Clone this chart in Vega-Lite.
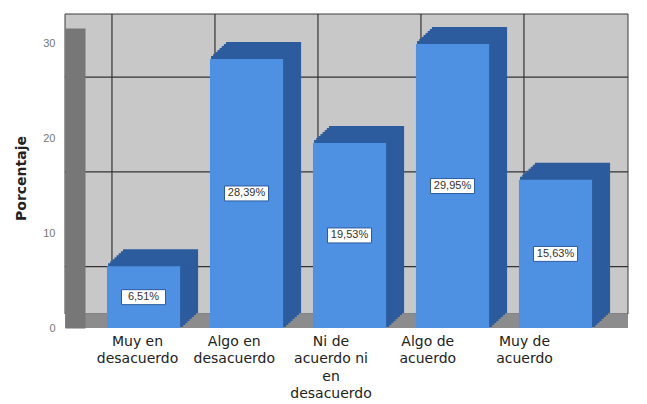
{
  "$schema": "https://vega.github.io/schema/vega-lite/v6.json",
  "width": 543,
  "height": 300,
  "autosize": {"type": "none"},
  "padding": {"left": 65, "top": 28, "right": 39, "bottom": 76},
  "background": "white",
  "config": {
    "view": {"stroke": null},
    "axis": {"grid": false},
    "locale": {
      "number": {"decimal": ",", "thousands": ".", "grouping": [3], "currency": ["", "%"]}
    }
  },
  "data": {
    "values": [
      {"Respuesta": "Muy en desacuerdo", "Porcentaje": 6.51},
      {"Respuesta": "Algo en desacuerdo", "Porcentaje": 28.39},
      {"Respuesta": "Ni de acuerdo ni en desacuerdo", "Porcentaje": 19.53},
      {"Respuesta": "Algo de acuerdo", "Porcentaje": 29.95},
      {"Respuesta": "Muy de acuerdo", "Porcentaje": 15.63}
    ]
  },
  "layer": [
    {
      "data": {"values": [{}]},
      "mark": {"type": "rect", "fill": "#c8c8c8", "stroke": "#3a3a3a", "strokeWidth": 1, "xOffset": 20, "x2Offset": 20, "yOffset": -14, "y2Offset": -14},
      "encoding": {
        "y": {"datum": 0, "type": "quantitative"},
        "y2": {"datum": 31.65}
      }
    },
    {
      "data": {"values": [{}]},
      "mark": {"type": "rule", "color": "#333333", "strokeWidth": 1.2, "xOffset": 20, "yOffset": -14},
      "encoding": {"y": {"datum": 5, "type": "quantitative"}}
    },
    {
      "data": {"values": [{}]},
      "mark": {"type": "rule", "color": "#333333", "strokeWidth": 1.2, "xOffset": 20, "yOffset": -14},
      "encoding": {"y": {"datum": 15, "type": "quantitative"}}
    },
    {
      "data": {"values": [{}]},
      "mark": {"type": "rule", "color": "#333333", "strokeWidth": 1.2, "xOffset": 20, "yOffset": -14},
      "encoding": {"y": {"datum": 25, "type": "quantitative"}}
    },
    {
      "mark": {"type": "rule", "color": "#333333", "strokeWidth": 1.2, "xOffset": 5, "yOffset": -14},
      "encoding": {
        "x": {"field": "Respuesta", "type": "nominal", "sort": null, "bandPosition": 0}
      }
    },
    {
      "data": {"values": [{}]},
      "mark": {"type": "rect", "fill": "#8c8c8c", "xOffset": 20},
      "encoding": {
        "y": {"datum": 0, "type": "quantitative"},
        "y2": {"datum": 1.5}
      }
    },
    {
      "encoding": {
        "x": {"field": "Respuesta", "type": "nominal", "sort": null},
        "y": {"field": "Porcentaje", "type": "quantitative"}
      },
      "layer": [
        {"mark": {"type": "bar", "fill": "#2c5c9e", "stroke": "#2c5c9e", "strokeWidth": 2, "xOffset": 17, "yOffset": -16}},
        {"mark": {"type": "bar", "fill": "#2c5c9e", "stroke": "#2c5c9e", "strokeWidth": 2, "xOffset": 14.9, "yOffset": -14}},
        {"mark": {"type": "bar", "fill": "#2c5c9e", "stroke": "#2c5c9e", "strokeWidth": 2, "xOffset": 12.75, "yOffset": -12}},
        {"mark": {"type": "bar", "fill": "#2c5c9e", "stroke": "#2c5c9e", "strokeWidth": 2, "xOffset": 10.6, "yOffset": -10}},
        {"mark": {"type": "bar", "fill": "#2c5c9e", "stroke": "#2c5c9e", "strokeWidth": 2, "xOffset": 8.5, "yOffset": -8}},
        {"mark": {"type": "bar", "fill": "#2c5c9e", "stroke": "#2c5c9e", "strokeWidth": 2, "xOffset": 6.4, "yOffset": -6}},
        {"mark": {"type": "bar", "fill": "#2c5c9e", "stroke": "#2c5c9e", "strokeWidth": 2, "xOffset": 4.25, "yOffset": -4}},
        {"mark": {"type": "bar", "fill": "#2c5c9e", "stroke": "#2c5c9e", "strokeWidth": 2, "xOffset": 2.1, "yOffset": -2}}
      ]
    },
    {
      "mark": {"type": "bar", "fill": "#4e90e2"},
      "encoding": {
        "x": {
          "field": "Respuesta",
          "type": "nominal",
          "sort": null,
          "scale": {"type": "band", "paddingInner": 0.29, "paddingOuter": 0.281, "align": 0.725},
          "axis": {
            "title": null,
            "domain": false,
            "ticks": false,
            "tickSize": 0,
            "labelAngle": 0,
            "labelAlign": "center",
            "labelFont": "DejaVu Sans",
            "labelFontSize": 14,
            "labelLineHeight": 17.5,
            "labelColor": "#222222",
            "labelPadding": 13,
            "labelLimit": 0,
            "labelOffset": {"expr": "-6 - 25 * datum.index"},
            "labelExpr": "datum.value == 'Ni de acuerdo ni en desacuerdo' ? ['Ni de', 'acuerdo ni', 'en', 'desacuerdo'] : [slice(datum.value, 0, lastindexof(datum.value, ' ')), slice(datum.value, lastindexof(datum.value, ' ') + 1)]"
          }
        },
        "y": {
          "field": "Porcentaje",
          "type": "quantitative",
          "scale": {"domain": [0, 31.65], "nice": false},
          "axis": {
            "title": "Porcentaje",
            "values": [0, 10, 20, 30],
            "ticks": false,
            "tickSize": 0,
            "domain": true,
            "domainColor": "#777777",
            "domainWidth": 20,
            "offset": -10,
            "zindex": 1,
            "labelPadding": 20,
            "labelFont": "Liberation Sans",
            "labelFontSize": 11,
            "labelColor": "#777777",
            "titleFont": "DejaVu Sans",
            "titleFontSize": 14,
            "titleFontWeight": "bold",
            "titleColor": "#222222",
            "titlePadding": 14
          }
        }
      }
    },
    {
      "encoding": {
        "x": {"field": "Respuesta", "type": "nominal", "sort": null},
        "y": {"datum": 0, "type": "quantitative"},
        "yOffset": {"field": "Porcentaje", "type": "quantitative", "scale": {"domain": [0, 31.65], "range": [0, -150]}}
      },
      "layer": [
        {
          "mark": {"type": "point", "shape": "M-1,-0.34H1V0.34H-1Z", "size": 1936, "filled": true, "fill": "white", "stroke": "#2c5c9e", "strokeWidth": 1, "opacity": 1}
        },
        {
          "mark": {"type": "text", "font": "Liberation Sans", "fontSize": 11, "color": "#333333", "baseline": "middle", "align": "center"},
          "encoding": {"text": {"field": "Porcentaje", "type": "quantitative", "format": "$.2f"}}
        }
      ]
    }
  ]
}
